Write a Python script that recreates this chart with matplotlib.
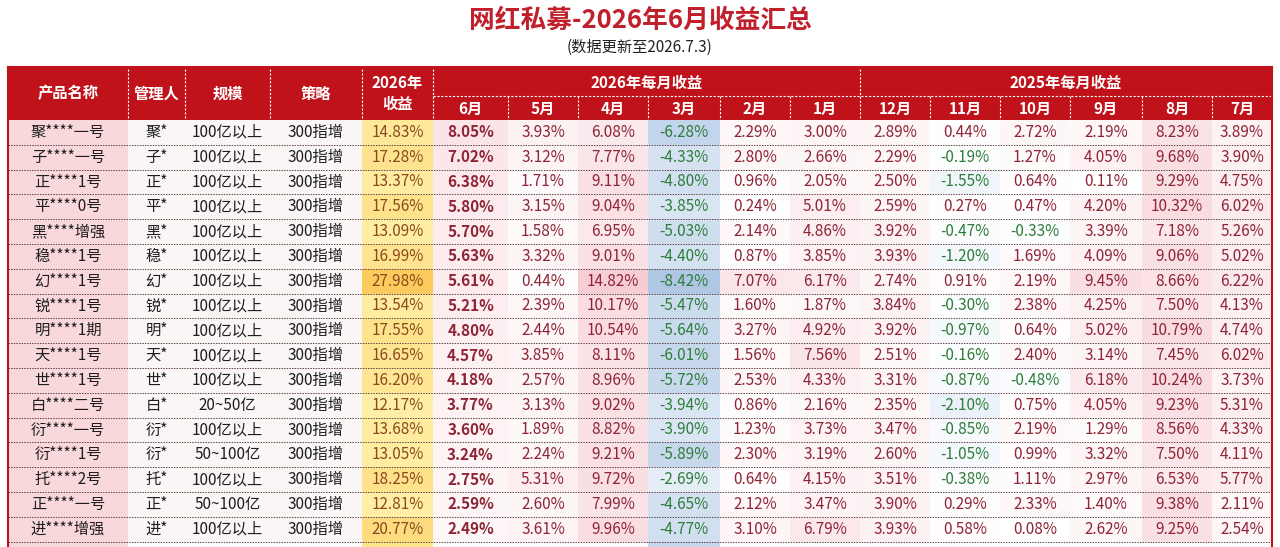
import matplotlib.pyplot as plt
from matplotlib.patches import Rectangle
from matplotlib.colors import to_rgb

plt.rcParams['font.family'] = ['Noto Sans CJK SC', 'DejaVu Sans']

# table content
names = ["聚****一号", "子****一号", "正****1号", "平****0号", "黑****增强", "稳****1号",
         "幻****1号", "锐****1号", "明****1期", "天****1号", "世****1号", "白****二号",
         "衍****一号", "衍****1号", "托****2号", "正****一号", "进****增强"]
managers = ["聚*", "子*", "正*", "平*", "黑*", "稳*", "幻*", "锐*", "明*", "天*", "世*",
            "白*", "衍*", "衍*", "托*", "正*", "进*"]
sizes = ["100亿以上"] * 11 + ["20~50亿", "100亿以上", "50~100亿", "100亿以上",
                             "50~100亿", "100亿以上"]
strategies = ["300指增"] * 17

ytd_2026 = [14.83, 17.28, 13.37, 17.56, 13.09, 16.99, 27.98, 13.54, 17.55, 16.65, 16.20,
            12.17, 13.68, 13.05, 18.25, 12.81, 20.77]
jun = [8.05, 7.02, 6.38, 5.80, 5.70, 5.63, 5.61, 5.21, 4.80, 4.57, 4.18, 3.77, 3.60, 3.24, 2.75, 2.59, 2.49]
may = [3.93, 3.12, 1.71, 3.15, 1.58, 3.32, 0.44, 2.39, 2.44, 3.85, 2.57, 3.13, 1.89, 2.24, 5.31, 2.60, 3.61]
apr = [6.08, 7.77, 9.11, 9.04, 6.95, 9.01, 14.82, 10.17, 10.54, 8.11, 8.96, 9.02, 8.82, 9.21, 9.72, 7.99, 9.96]
mar = [-6.28, -4.33, -4.80, -3.85, -5.03, -4.40, -8.42, -5.47, -5.64, -6.01, -5.72, -3.94, -3.90, -5.89, -2.69, -4.65, -4.77]
feb = [2.29, 2.80, 0.96, 0.24, 2.14, 0.87, 7.07, 1.60, 3.27, 1.56, 2.53, 0.86, 1.23, 2.30, 0.64, 2.12, 3.10]
jan = [3.00, 2.66, 2.05, 5.01, 4.86, 3.85, 6.17, 1.87, 4.92, 7.56, 4.33, 2.16, 3.73, 3.19, 4.15, 3.47, 6.79]
dec = [2.89, 2.29, 2.50, 2.59, 3.92, 3.93, 2.74, 3.84, 3.92, 2.51, 3.31, 2.35, 3.47, 2.60, 3.51, 3.90, 3.93]
nov = [0.44, -0.19, -1.55, 0.27, -0.47, -1.20, 0.91, -0.30, -0.97, -0.16, -0.87, -2.10, -0.85, -1.05, -0.38, 0.29, 0.58]
oct_ = [2.72, 1.27, 0.64, 0.47, -0.33, 1.69, 2.19, 2.38, 0.64, 2.40, -0.48, 0.75, 2.19, 0.99, 1.11, 2.33, 0.08]
sep = [2.19, 4.05, 0.11, 4.20, 3.39, 4.09, 9.45, 4.25, 5.02, 3.14, 6.18, 4.05, 1.29, 3.32, 2.97, 1.40, 2.62]
aug = [8.23, 9.68, 9.29, 10.32, 7.18, 9.06, 8.66, 7.50, 10.79, 7.45, 10.24, 9.23, 8.56, 7.50, 6.53, 9.38, 9.25]
jul = [3.89, 3.90, 4.75, 6.02, 5.26, 5.02, 6.22, 4.13, 4.74, 6.02, 3.73, 5.31, 4.33, 4.11, 5.77, 2.11, 2.54]

monthly = [jun, may, apr, mar, feb, jan, dec, nov, oct_, sep, aug, jul]
month_labels = ["6月", "5月", "4月", "3月", "2月", "1月",
                "12月", "11月", "10月", "9月", "8月", "7月"]
info_labels = ["产品名称", "管理人", "规模", "策略"]

title = "网红私募-2026年6月收益汇总"
subtitle = "(数据更新至2026.7.3)"

# layout (pixel space)
col_edges = [8, 128, 185, 270, 362, 433, 508, 578, 648, 720, 790, 860,
             930, 1000, 1070, 1142, 1212, 1272]
head_top, head_mid, head_bot = 67, 96, 120
row_h = 24.8

RED = "#C0121A"
POS_TXT = "#8E2536"
NEG_TXT = "#2E7D3A"


def mix(c1, c2, t):
    a, b = to_rgb(c1), to_rgb(c2)
    t = max(0.0, min(1.0, t))
    return tuple(a[i] + (b[i] - a[i]) * t for i in range(3))


fig = plt.figure(figsize=(12.8, 5.47), dpi=100)
ax = fig.add_axes([0, 0, 1, 1])
ax.set_xlim(0, 1280)
ax.set_ylim(547, 0)
ax.axis("off")

ax.text(640, 20, title, ha="center", va="center", fontsize=18.5,
        fontweight="bold", color="#C0202B")
ax.text(640, 47, subtitle, ha="center", va="center", fontsize=11, color="#222222")

# header
x0, x1 = col_edges[0], col_edges[-1]
ax.add_patch(Rectangle((x0, head_top), x1 - x0, head_bot - head_top,
                       facecolor=RED, edgecolor="none"))
hdr_kw = dict(ha="center", va="center", color="white", fontsize=11, fontweight="bold")
for i, lab in enumerate(info_labels):
    ax.text((col_edges[i] + col_edges[i + 1]) / 2, (head_top + head_bot) / 2, lab, **hdr_kw)
ax.text((col_edges[4] + col_edges[5]) / 2, (head_top + head_bot) / 2, "2026年\n收益",
        linespacing=1.35, **hdr_kw)
ax.text((col_edges[5] + col_edges[11]) / 2, (head_top + head_mid) / 2 + 1,
        "2026年每月收益", **hdr_kw)
ax.text((col_edges[11] + col_edges[17]) / 2, (head_top + head_mid) / 2 + 1,
        "2025年每月收益", **hdr_kw)
for j, lab in enumerate(month_labels):
    ax.text((col_edges[5 + j] + col_edges[6 + j]) / 2, (head_mid + head_bot) / 2 + 1,
            lab, **hdr_kw)

dash = dict(color="white", linewidth=0.8, linestyle=(0, (2, 1.5)))
for i in range(1, 6):
    ax.plot([col_edges[i]] * 2, [head_top + 2, head_bot], **dash)
ax.plot([col_edges[11]] * 2, [head_top + 2, head_bot], **dash)
for i in range(6, 17):
    if i != 11:
        ax.plot([col_edges[i]] * 2, [head_mid, head_bot], **dash)
ax.plot([col_edges[5], col_edges[17]], [head_mid, head_mid], **dash)

# body
n = len(names)
ymin_y, ymax_y = min(ytd_2026), max(ytd_2026)
all_vals = [v for col in monthly for v in col]
pos_max = max(all_vals)
neg_min = min(all_vals)

for r in range(n):
    top = head_bot + r * row_h
    cy = top + row_h / 2
    # first column pink, info columns near white
    ax.add_patch(Rectangle((col_edges[0], top), col_edges[1] - col_edges[0], row_h,
                           facecolor="#F9D8DC", edgecolor="none"))
    ax.add_patch(Rectangle((col_edges[1], top), col_edges[4] - col_edges[1], row_h,
                           facecolor="#FAF6F6", edgecolor="none"))
    t = (ytd_2026[r] - ymin_y) / (ymax_y - ymin_y)
    ax.add_patch(Rectangle((col_edges[4], top), col_edges[5] - col_edges[4], row_h,
                           facecolor=mix("#FFEFA6", "#FCCB5E", t), edgecolor="none"))
    for j, col in enumerate(monthly):
        v = col[r]
        if v >= 0:
            fc = mix("#FFFFFF", "#F6CDD3", v / pos_max)
        else:
            fc = mix("#FFFFFF", "#AFC7E5", v / neg_min)
        ax.add_patch(Rectangle((col_edges[5 + j], top), col_edges[6 + j] - col_edges[5 + j],
                               row_h, facecolor=fc, edgecolor="none"))

    row_txt = [names[r], managers[r], sizes[r], strategies[r]]
    for i, s in enumerate(row_txt):
        ax.text((col_edges[i] + col_edges[i + 1]) / 2, cy, s, ha="center", va="center",
                fontsize=11, color="#1E1E1E")
    ax.text((col_edges[4] + col_edges[5]) / 2, cy, f"{ytd_2026[r]:.2f}%", ha="center",
            va="center", fontsize=11, color="#8A4A1E")
    for j, col in enumerate(monthly):
        v = col[r]
        ax.text((col_edges[5 + j] + col_edges[6 + j]) / 2, cy, f"{v:.2f}%",
                ha="center", va="center", fontsize=11,
                color=POS_TXT if v >= 0 else NEG_TXT,
                fontweight="bold" if j == 0 else "normal")
    ax.plot([x0, x1], [top + row_h, top + row_h], color="#5E4346", linewidth=0.7,
            linestyle=(0, (1.5, 1.2)))

# partially visible next row at the bottom edge
body_bot = head_bot + n * row_h
ax.add_patch(Rectangle((col_edges[0], body_bot), col_edges[1] - col_edges[0], 10,
                       facecolor="#F9D8DC", edgecolor="none"))
ax.add_patch(Rectangle((col_edges[4], body_bot), col_edges[5] - col_edges[4], 10,
                       facecolor="#FFE48A", edgecolor="none"))
ax.add_patch(Rectangle((col_edges[8], body_bot), col_edges[9] - col_edges[8], 10,
                       facecolor="#C6D7EC", edgecolor="none"))

# red outline of the table
ax.plot([x0, x0], [head_top, 547], color=RED, linewidth=1.5)
ax.plot([x1, x1], [head_top, 547], color=RED, linewidth=1.5)
ax.plot([x0, x1], [head_top, head_top], color=RED, linewidth=1.5)

fig.savefig("out.png", dpi=100)
